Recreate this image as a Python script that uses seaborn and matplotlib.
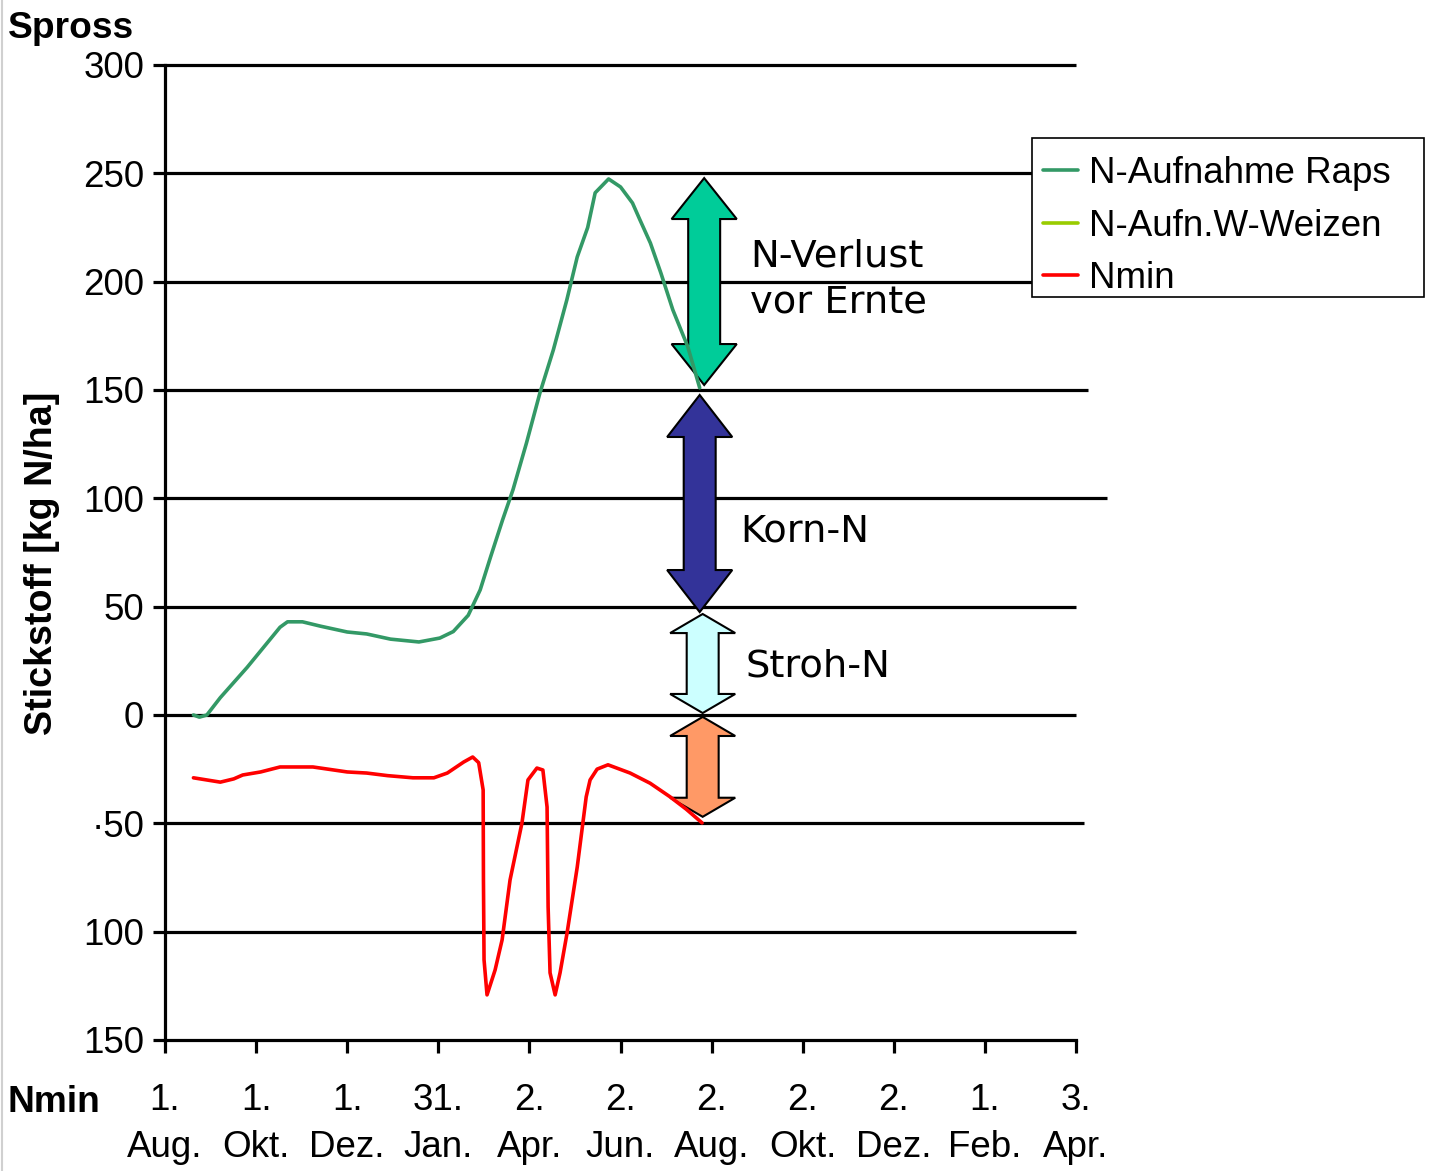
import matplotlib
matplotlib.use("Agg")
import matplotlib.pyplot as plt
from matplotlib.patches import Polygon, Rectangle
from matplotlib.lines import Line2D
import seaborn as sns
import pandas as pd

sns.set_theme(style="white")
plt.rcParams["font.family"] = ["Liberation Sans", "DejaVu Sans"]
plt.rcParams["text.color"] = "black"
plt.rcParams["axes.labelcolor"] = "black"
plt.rcParams["xtick.color"] = "black"
plt.rcParams["ytick.color"] = "black"

# Days since 1 August and nitrogen values (kg N/ha)
raps_days = [19, 23, 28, 37, 55, 77, 82, 92, 104, 122, 135, 151, 170, 184, 193,
             203, 211, 218, 226, 233, 242, 251, 260, 269, 276, 283, 288, 297,
             305, 313, 318, 325, 332, 340, 350, 358]
raps_n = [0, -1, 0, 8, 22, 40.5, 43, 43, 41, 38.3, 37.4, 35, 33.7, 35.5, 38.5,
          46, 57.7, 73, 90, 104, 125.5, 148.6, 168.5, 191.5, 211.4, 225, 241,
          247.4, 243.7, 236.3, 228.5, 217.8, 204, 187, 170, 151]

nmin_days = [19, 37, 46, 52, 64, 77, 99, 122, 135, 149, 166, 180, 189, 200, 206,
             210, 213, 213.2, 213.6, 215.6, 221, 225.7, 231, 239, 243, 249, 253,
             255.8, 256.5, 257.8, 261.2, 264.5, 269.2, 276, 282, 284.6, 289.3,
             296.6, 311.4, 324.8, 338.2, 349, 359.6]
nmin_n = [-29, -31, -29.5, -27.7, -26.3, -24, -24, -26.3, -26.8, -28, -29, -29,
          -26.8, -21.7, -19.4, -22, -34.6, -76, -113, -129.2, -117.7, -103.8,
          -76.2, -49.8, -30, -24.5, -25.4, -42.5, -88.6, -119, -129.2, -119,
          -100.6, -70.2, -37.8, -30, -25, -23, -26.8, -31.5, -37.8, -43.5, -49.8]

series_names = ["N-Aufnahme Raps", "N-Aufn.W-Weizen", "Nmin"]
series_colors = ["#339966", "#99CC00", "#FF0000"]

x_ticks = [0, 61, 122, 183, 244, 305, 366, 427, 488, 549, 610]
x_labels = ["1.\nAug.", "1.\nOkt.", "1.\nDez.", "31.\nJan.", "2.\nApr.",
            "2.\nJun.", "2.\nAug.", "2.\nOkt.", "2.\nDez.", "1.\nFeb.", "3.\nApr."]
y_ticks = [300, 250, 200, 150, 100, 50, 0, -50, -100, -150]
y_labels = ["300", "250", "200", "150", "100", "50", "0", "\u00b750", "100", "150"]
grid_end = [610, 610, 610, 618, 631, 610, 610, 615, 610]

# N balance pools shown as double arrows (bottom, top)
pool_names = ["N-Verlust\nvor Ernte", "Korn-N", "Stroh-N", ""]
pool_bottom = [152.3, 47.5, 0.9, -47]
pool_top = [247.8, 147.7, 46.6, -0.9]
pool_colors = ["#00CC99", "#333399", "#CCFFFF", "#FF9966"]
pool_x = [361, 358, 360, 360]
pool_head = [18.9, 19.4, 8.8, 8.8]
pool_text_pos = [(392, 201.0), (385, 84.5), (389, 22.6), None]

fig = plt.figure(figsize=(14.29, 11.71), dpi=100)
ax = fig.add_axes([0.1155, 0.1119, 0.6375, 0.8326])
ax.set_xlim(0, 610)
ax.set_ylim(-150, 300)

# horizontal reference lines
for y, xe in zip(y_ticks[:-1], grid_end):
    ax.hlines(y, 0, xe, color="black", lw=2.3, clip_on=False, zorder=1)

# double-headed block arrows
shaft, head_w = 10.7, 21.8
for cx, y0, y1, hl, col in zip(pool_x, pool_bottom, pool_top, pool_head, pool_colors):
    verts = [(cx, y1), (cx + head_w, y1 - hl), (cx + shaft, y1 - hl),
             (cx + shaft, y0 + hl), (cx + head_w, y0 + hl), (cx, y0),
             (cx - head_w, y0 + hl), (cx - shaft, y0 + hl),
             (cx - shaft, y1 - hl), (cx - head_w, y1 - hl)]
    ax.add_patch(Polygon(verts, closed=True, facecolor=col, edgecolor="black",
                         lw=1.5, zorder=2))

for name, pos in zip(pool_names, pool_text_pos):
    if pos is None:
        continue
    ax.text(pos[0], pos[1], name, ha="left", va="center", fontsize=27.7,
            family=["DejaVu Sans"], linespacing=1.36, color="black", zorder=4)

df_raps = pd.DataFrame({"day": raps_days, "N": raps_n})
df_nmin = pd.DataFrame({"day": nmin_days, "N": nmin_n})
sns.lineplot(data=df_raps, x="day", y="N", sort=False, estimator=None,
             color=series_colors[0], lw=2.6, ax=ax, zorder=3)
sns.lineplot(data=df_nmin, x="day", y="N", sort=False, estimator=None,
             color=series_colors[2], lw=2.6, ax=ax, zorder=3)

for s in ["top", "right"]:
    ax.spines[s].set_visible(False)
for s in ["left", "bottom"]:
    ax.spines[s].set_color("black")
    ax.spines[s].set_linewidth(2.3)

ax.set_xticks(x_ticks)
ax.set_xticklabels(x_labels, fontsize=26.5, linespacing=1.45, ha="center")
ax.set_yticks(y_ticks)
ax.set_yticklabels(y_labels, fontsize=26.5)
ax.tick_params(axis="x", direction="out", length=9, width=2.3, pad=22,
               color="black", labelcolor="black", bottom=True)
ax.tick_params(axis="y", direction="out", length=9, width=2.3, pad=6,
               color="black", labelcolor="black", left=True)
ax.set_xlabel("")
ax.set_ylabel("")
ax.grid(False)

# legend box and entries
fig.add_artist(Rectangle((1032 / 1429, 1 - 297 / 1171), 392 / 1429, 159 / 1171,
                         transform=fig.transFigure, facecolor="white",
                         edgecolor="black", lw=1.2, zorder=5))
handles = [Line2D([], [], color=c, lw=2.6) for c in series_colors]
leg = fig.legend(handles, series_names, loc="upper left",
                 bbox_to_anchor=(1030 / 1429, 1 - 143 / 1171),
                 bbox_transform=fig.transFigure,
                 borderaxespad=0, fontsize=26.5, frameon=False,
                 handlelength=0.95, handletextpad=0.3,
                 labelspacing=0.48, borderpad=0.35, labelcolor="black")
leg.set_zorder(6)

fig.text(8 / 1429, 1 - 38 / 1171, "Spross", fontsize=26.7, fontweight="bold",
         ha="left", va="baseline", color="black")
fig.text(8 / 1429, 1 - 1112 / 1171, "Nmin", fontsize=26.7, fontweight="bold",
         ha="left", va="baseline", color="black")
fig.text(42 / 1429, 1 - 563 / 1171, "Stickstoff [kg N/ha]", fontsize=27.1,
         fontweight="bold", rotation=90, ha="center", va="center", color="black")
fig.add_artist(Line2D([2 / 1429, 2 / 1429], [0, 1], color="#d0d0d0", lw=1.5))

fig.savefig("out.png", dpi=100, facecolor="white")
